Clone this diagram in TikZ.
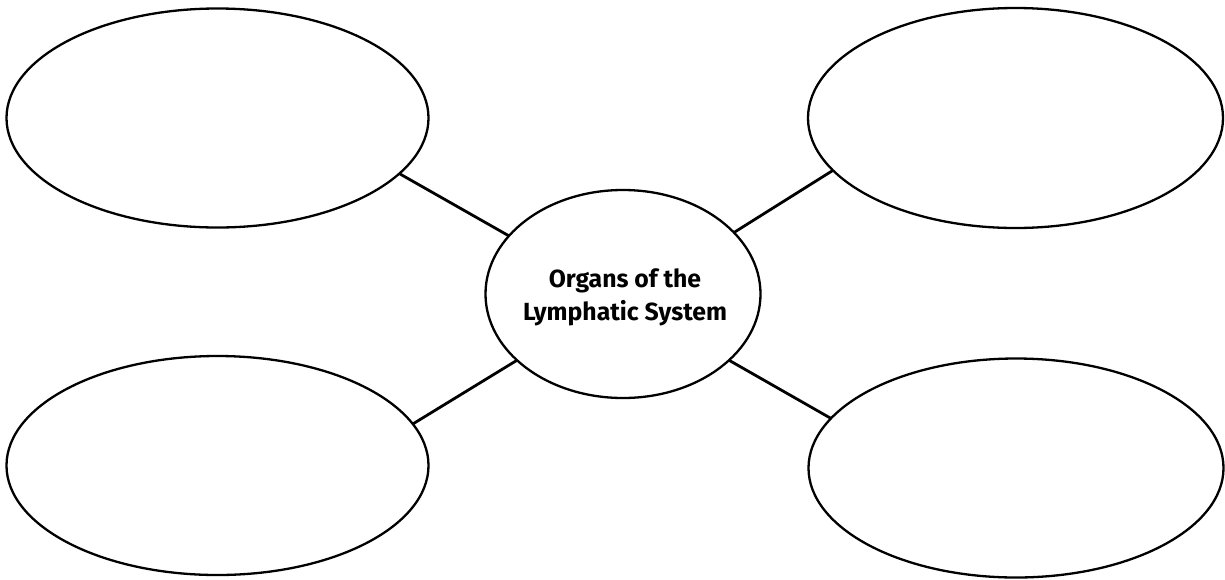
\documentclass[tikz,border=0pt]{standalone}
\usepackage{fontspec}
\setmainfont{Fira Sans}
\usetikzlibrary{shapes.geometric}
\begin{document}
\begin{tikzpicture}[x=1pt,y=-1pt,
  blob/.style={draw=black,line width=2.3pt,ellipse,inner sep=0pt,outer sep=0pt},
  link/.style={draw=black,line width=2.8pt}]
\useasboundingbox[fill=white] (0,0) rectangle (1225,579);
\node[blob,minimum width=422pt,minimum height=219pt] (tl) at (217.5,118) {};
\node[blob,minimum width=415pt,minimum height=220pt] (tr) at (1015.5,118) {};
\node[blob,minimum width=422pt,minimum height=219pt] (bl) at (217.5,465.5) {};
\node[blob,minimum width=415pt,minimum height=219pt] (br) at (1016,468) {};
\node[blob,minimum width=275pt,minimum height=208pt] (c) at (623,294) {};
\node[align=center,inner sep=0pt,font=\fontsize{24.8}{33}\selectfont\bfseries] (t) at (625,297)
  {Organs of the\\Lymphatic System};
\draw[link] (tl.-17.3) -- (c.153.2);
\draw[link] (c.29.4) -- (tr.196.8);
\draw[link] (bl.12.5) -- (c.212.9);
\draw[link] (c.-32.3) -- (br.165.2);
\end{tikzpicture}
\end{document}
